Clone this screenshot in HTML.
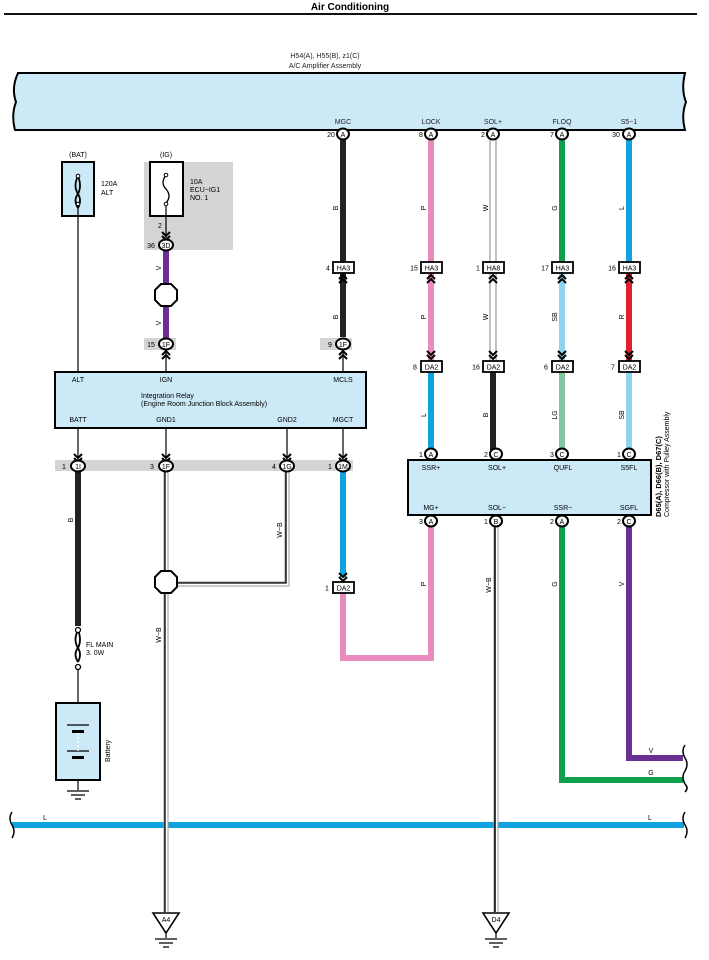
<!DOCTYPE html>
<html><head><meta charset="utf-8"><style>
html,body{margin:0;padding:0;background:#fff;}
svg{display:block;font-family:"Liberation Sans",sans-serif;}
.t{font-size:7px;fill:#222;}
.c{font-size:7px;fill:#222;text-anchor:middle;}
</style></head><body>
<svg width="709" height="960" viewBox="0 0 709 960" xmlns="http://www.w3.org/2000/svg">
<defs>
<g id="chU"><path d="M-4,4 L0,0 L4,4 M-4,8 L0,4 L4,8" fill="none" stroke="#000" stroke-width="2"/></g>
<g id="chD"><path d="M-4,-4 L0,0 L4,-4 M-4,-8 L0,-4 L4,-8" fill="none" stroke="#000" stroke-width="2"/></g>
</defs>
<text x="350" y="10" font-size="10" font-weight="bold" text-anchor="middle">Air Conditioning</text>
<rect x="4" y="13" width="693" height="2" fill="#111"/>

<text x="325" y="58" class="c" font-size="7.5">H54(A), H55(B), z1(C)</text>
<text x="325" y="68" class="c">A/C Amplifier Assembly</text>
<path d="M18,73 L685,73 Q681,90 686,102 Q681,115 685,130 L15,130 Q11,115 16,102 Q11,88 18,73 Z" fill="#cce9f8" stroke="#000" stroke-width="2"/>
<g class="c"><text x="343" y="124" class="c">MGC</text><text x="431" y="124" class="c">LOCK</text><text x="493" y="124" class="c">SOL+</text><text x="562" y="124" class="c">FLOQ</text><text x="629" y="124" class="c">S5−1</text></g>

<!-- upper wires -->
<rect x="340" y="137" width="6" height="200" fill="#222"/>
<rect x="428" y="137" width="6" height="225" fill="#e98bbd"/>
<rect x="490" y="137" width="6" height="225" fill="#fff" stroke="#666" stroke-width="0.8"/>
<rect x="559" y="137" width="6" height="128" fill="#0ea04c"/>
<rect x="559" y="272" width="6" height="90" fill="#8fd3f0"/>
<rect x="626" y="137" width="6" height="128" fill="#10a3df"/>
<rect x="626" y="272" width="6" height="90" fill="#e0202a"/>
<!-- lower to compressor -->
<rect x="428" y="370" width="6" height="80" fill="#10a3df"/>
<rect x="490" y="370" width="6" height="80" fill="#222"/>
<rect x="559" y="370" width="6" height="80" fill="#82c6a0"/>
<rect x="626" y="370" width="6" height="80" fill="#8fd3f0"/>

<!-- amp pins -->
<g font-size="7" text-anchor="middle">
<g><ellipse cx="343" cy="134" rx="6" ry="5.5" fill="#fff" stroke="#000" stroke-width="2"/><text x="343" y="137">A</text><text x="331" y="137">20</text></g>
<g><ellipse cx="431" cy="134" rx="6" ry="5.5" fill="#fff" stroke="#000" stroke-width="2"/><text x="431" y="137">A</text><text x="421" y="137">8</text></g>
<g><ellipse cx="493" cy="134" rx="6" ry="5.5" fill="#fff" stroke="#000" stroke-width="2"/><text x="493" y="137">A</text><text x="483" y="137">2</text></g>
<g><ellipse cx="562" cy="134" rx="6" ry="5.5" fill="#fff" stroke="#000" stroke-width="2"/><text x="562" y="137">A</text><text x="552" y="137">7</text></g>
<g><ellipse cx="629" cy="134" rx="6" ry="5.5" fill="#fff" stroke="#000" stroke-width="2"/><text x="629" y="137">A</text><text x="616" y="137">30</text></g>
</g>

<!-- HA boxes -->
<g font-size="7" text-anchor="middle">
<rect x="333" y="262" width="21" height="11" fill="#fff" stroke="#000" stroke-width="1.8"/><text x="343.5" y="270.5">HA3</text><text x="328" y="270.5">4</text>
<rect x="421" y="262" width="21" height="11" fill="#fff" stroke="#000" stroke-width="1.8"/><text x="431.5" y="270.5">HA3</text><text x="414" y="270.5">15</text>
<rect x="483" y="262" width="21" height="11" fill="#fff" stroke="#000" stroke-width="1.8"/><text x="493.5" y="270.5">HA8</text><text x="478" y="270.5">1</text>
<rect x="552" y="262" width="21" height="11" fill="#fff" stroke="#000" stroke-width="1.8"/><text x="562.5" y="270.5">HA3</text><text x="545" y="270.5">17</text>
<rect x="619" y="262" width="21" height="11" fill="#fff" stroke="#000" stroke-width="1.8"/><text x="629.5" y="270.5">HA3</text><text x="612" y="270.5">16</text>
</g>
<use href="#chU" x="343" y="275"/><use href="#chU" x="431" y="275"/><use href="#chU" x="493" y="275"/><use href="#chU" x="562" y="275"/><use href="#chU" x="629" y="275"/>
<!-- DA2 boxes -->
<g font-size="7" text-anchor="middle">
<rect x="421" y="361" width="21" height="11" fill="#fff" stroke="#000" stroke-width="1.8"/><text x="431.5" y="369.5">DA2</text><text x="415" y="369.5">8</text>
<rect x="483" y="361" width="21" height="11" fill="#fff" stroke="#000" stroke-width="1.8"/><text x="493.5" y="369.5">DA2</text><text x="476" y="369.5">16</text>
<rect x="552" y="361" width="21" height="11" fill="#fff" stroke="#000" stroke-width="1.8"/><text x="562.5" y="369.5">DA2</text><text x="546" y="369.5">6</text>
<rect x="619" y="361" width="21" height="11" fill="#fff" stroke="#000" stroke-width="1.8"/><text x="629.5" y="369.5">DA2</text><text x="613" y="369.5">7</text>
</g>
<use href="#chD" x="431" y="359"/><use href="#chD" x="493" y="359"/><use href="#chD" x="562" y="359"/><use href="#chD" x="629" y="359"/>

<!-- wire labels rotated -->
<g font-size="7" text-anchor="middle">
<text transform="translate(338,208) rotate(-90)">B</text>
<text transform="translate(426,208) rotate(-90)">P</text>
<text transform="translate(488,208) rotate(-90)">W</text>
<text transform="translate(557,208) rotate(-90)">G</text>
<text transform="translate(624,208) rotate(-90)">L</text>
<text transform="translate(338,317) rotate(-90)">B</text>
<text transform="translate(426,317) rotate(-90)">P</text>
<text transform="translate(488,317) rotate(-90)">W</text>
<text transform="translate(557,317) rotate(-90)">SB</text>
<text transform="translate(624,317) rotate(-90)">R</text>
<text transform="translate(426,415) rotate(-90)">L</text>
<text transform="translate(488,415) rotate(-90)">B</text>
<text transform="translate(557,415) rotate(-90)">LG</text>
<text transform="translate(624,415) rotate(-90)">SB</text>
</g>

<!-- compressor -->
<rect x="408" y="460" width="243" height="55" fill="#cce9f8" stroke="#000" stroke-width="2"/>
<g font-size="7" text-anchor="middle">
<text x="431" y="470">SSR+</text><text x="497" y="470">SOL+</text><text x="563" y="470">QUFL</text><text x="629" y="470">S5FL</text>
<text x="431" y="510">MG+</text><text x="497" y="510">SOL−</text><text x="563" y="510">SSR−</text><text x="629" y="510">SGFL</text>
</g>
<g font-size="7" text-anchor="middle">
<ellipse cx="431" cy="454" rx="6" ry="5.5" fill="#fff" stroke="#000" stroke-width="2"/><text x="431" y="457">A</text><text x="421" y="457">1</text>
<ellipse cx="496" cy="454" rx="6" ry="5.5" fill="#fff" stroke="#000" stroke-width="2"/><text x="496" y="457">C</text><text x="486" y="457">2</text>
<ellipse cx="562" cy="454" rx="6" ry="5.5" fill="#fff" stroke="#000" stroke-width="2"/><text x="562" y="457">C</text><text x="552" y="457">3</text>
<ellipse cx="629" cy="454" rx="6" ry="5.5" fill="#fff" stroke="#000" stroke-width="2"/><text x="629" y="457">C</text><text x="619" y="457">1</text>
</g>
<text transform="translate(661,517) rotate(-90)" font-size="7.5" font-weight="bold">D65(A), D66(B), D67(C)</text>
<text transform="translate(669,517) rotate(-90)" font-size="7">Compressor with Pulley Assembly</text>

<!-- compressor bottom wires -->
<path d="M431,525 V658 H343 V592" fill="none" stroke="#e98bbd" stroke-width="6"/>
<path d="M562,525 V780 H683" fill="none" stroke="#0ea04c" stroke-width="6"/>
<path d="M629,525 V758 H683" fill="none" stroke="#6a2f92" stroke-width="6"/>
<rect x="340" y="471" width="6" height="106" fill="#10a3df"/>
<use href="#chD" x="343" y="581"/>
<rect x="333" y="582" width="21" height="11" fill="#fff" stroke="#000" stroke-width="1.8"/>
<text x="343.5" y="590.5" font-size="7" text-anchor="middle">DA2</text><text x="327" y="590.5" font-size="7" text-anchor="middle">1</text>
<!-- L horizontal -->
<rect x="12" y="822" width="672" height="6" fill="#10a3df"/>
<path d="M685,745 q-4,6 0,13 q4,6 0,13 q-4,6 0,13 q4,4 0,8 M685,812 q-4,6 0,13 q4,6 0,13 M12,812 q-4,6 0,13 q4,6 0,13" fill="none" stroke="#000" stroke-width="1.5"/>
<g font-size="7" text-anchor="middle">
<text x="45" y="820">L</text><text x="650" y="820">L</text><text x="651" y="753">V</text><text x="651" y="775">G</text>
<text transform="translate(426,584) rotate(-90)">P</text>
<text transform="translate(557,584) rotate(-90)">G</text>
<text transform="translate(624,584) rotate(-90)">V</text>
<text transform="translate(491,585) rotate(-90)">W−B</text>
<text transform="translate(161,635) rotate(-90)">W−B</text>
<text transform="translate(282,530) rotate(-90)">W−B</text>
<text transform="translate(73,520) rotate(-90)">B</text>
<text transform="translate(161,268) rotate(-90)">V</text>
<text transform="translate(161,323) rotate(-90)">V</text>
</g>
<!-- SOL- W-B to D4 -->
<path d="M496,525 V912" stroke="#999" stroke-width="5" fill="none"/>
<path d="M496,525 V912" stroke="#fff" stroke-width="3" fill="none"/>
<path d="M495,525 V912" stroke="#000" stroke-width="1.5" fill="none"/>
<ellipse cx="496" cy="521" rx="6" ry="5.5" fill="#fff" stroke="#000" stroke-width="2"/><text x="496" y="524" font-size="7" text-anchor="middle">B</text><text x="486" y="524" font-size="7" text-anchor="middle">1</text>
<g font-size="7" text-anchor="middle">
<ellipse cx="431" cy="521" rx="6" ry="5.5" fill="#fff" stroke="#000" stroke-width="2"/><text x="431" y="524">A</text><text x="421" y="524">3</text>
<ellipse cx="562" cy="521" rx="6" ry="5.5" fill="#fff" stroke="#000" stroke-width="2"/><text x="562" y="524">A</text><text x="552" y="524">2</text>
<ellipse cx="629" cy="521" rx="6" ry="5.5" fill="#fff" stroke="#000" stroke-width="2"/><text x="629" y="524">C</text><text x="619" y="524">2</text>
</g>

<!-- Left: BAT fuse -->
<text x="78" y="157" font-size="7" text-anchor="middle">(BAT)</text>
<rect x="62" y="162" width="32" height="54" fill="#cce9f8" stroke="#000" stroke-width="2"/>
<path d="M78,176 q-5,10 0,18 q4,6 0,14 M78,176 q4,10 0,18 q-5,6 0,14" fill="none" stroke="#000" stroke-width="1.8"/>
<circle cx="78" cy="176" r="1.8" fill="#fff" stroke="#000"/><circle cx="78" cy="204" r="1.8" fill="#fff" stroke="#000"/>
<text x="101" y="186" font-size="7">120A</text><text x="101" y="195" font-size="7">ALT</text>
<path d="M78,205 V373" stroke="#000" stroke-width="1.2"/>
<!-- IG -->
<text x="166" y="157" font-size="7" text-anchor="middle">(IG)</text>
<rect x="144" y="162" width="89" height="88" fill="#d4d4d4"/>
<rect x="150" y="162" width="33" height="54" fill="#fff" stroke="#000" stroke-width="2"/>
<path d="M166,175 q-6,8 0,14 q6,7 0,14" fill="none" stroke="#000" stroke-width="1.3"/>
<circle cx="166" cy="175" r="1.8" fill="#fff" stroke="#000"/><circle cx="166" cy="204" r="1.8" fill="#fff" stroke="#000"/>
<text x="190" y="184" font-size="7">10A</text><text x="190" y="192" font-size="7">ECU−IG1</text><text x="190" y="200" font-size="7">NO. 1</text>
<path d="M166,206 V238" stroke="#000" stroke-width="1.2"/>
<use href="#chD" x="166" y="240"/>
<text x="160" y="228" font-size="7" text-anchor="middle">2</text>
<rect x="163" y="250" width="6" height="88" fill="#6a2f92"/>
<ellipse cx="166" cy="245" rx="7" ry="5.5" fill="#fff" stroke="#000" stroke-width="2"/><text x="166" y="248" font-size="7" text-anchor="middle">3D</text><text x="151" y="248" font-size="7" text-anchor="middle">36</text>
<polygon points="161,284 171,284 177,290 177,300 171,306 161,306 155,300 155,290" fill="#fff" stroke="#000" stroke-width="2"/>
<rect x="144" y="338" width="32" height="12" fill="#d4d4d4"/>
<rect x="320" y="338" width="32" height="12" fill="#d4d4d4"/>
<ellipse cx="166" cy="344" rx="7" ry="5.5" fill="#fff" stroke="#000" stroke-width="2"/><text x="166" y="347" font-size="7" text-anchor="middle">1F</text><text x="151" y="347" font-size="7" text-anchor="middle">15</text>
<ellipse cx="343" cy="344" rx="7" ry="5.5" fill="#fff" stroke="#000" stroke-width="2"/><text x="343" y="347" font-size="7" text-anchor="middle">1F</text><text x="330" y="347" font-size="7" text-anchor="middle">9</text>
<path d="M166,350 V373 M343,350 V373" stroke="#000" stroke-width="1.2"/>
<use href="#chU" x="166" y="351"/><use href="#chU" x="343" y="351"/>

<!-- relay -->
<rect x="55" y="372" width="311" height="56" fill="#cce9f8" stroke="#000" stroke-width="2"/>
<g font-size="7" text-anchor="middle">
<text x="78" y="382">ALT</text><text x="166" y="382">IGN</text><text x="343" y="382">MCLS</text>
<text x="78" y="422">BATT</text><text x="166" y="422">GND1</text><text x="287" y="422">GND2</text><text x="343" y="422">MGCT</text>
</g>
<text x="141" y="398" font-size="7">Integration Relay</text>
<text x="141" y="406" font-size="7">(Engine Room Junction Block Assembly)</text>
<path d="M78,428 V460 M166,428 V460 M287,428 V460 M343,428 V460" stroke="#000" stroke-width="1.2"/>
<use href="#chD" x="78" y="462"/><use href="#chD" x="166" y="462"/><use href="#chD" x="287" y="462"/><use href="#chD" x="343" y="462"/>
<rect x="55" y="460" width="298" height="11" fill="#d4d4d4"/>

<!-- W-B double lines -->
<path d="M166,471 V912 M287,471 V584 H170" stroke="#999" stroke-width="5" fill="none"/>
<path d="M166,471 V912 M287,471 V584 H170" stroke="#fff" stroke-width="3" fill="none"/>
<path d="M165,471 V912 M286,471 V583 H170" stroke="#000" stroke-width="1.3" fill="none"/>
<polygon points="161,571 171,571 177,577 177,587 171,593 161,593 155,587 155,577" fill="#fff" stroke="#000" stroke-width="2"/>
<!-- battery wire -->
<rect x="75" y="471" width="6" height="155" fill="#222"/>
<g font-size="7" text-anchor="middle">
<ellipse cx="78" cy="466" rx="7" ry="5.5" fill="#fff" stroke="#000" stroke-width="2"/><text x="78" y="469">1I</text><text x="64" y="469">1</text>
<ellipse cx="166" cy="466" rx="7" ry="5.5" fill="#fff" stroke="#000" stroke-width="2"/><text x="166" y="469">1F</text><text x="152" y="469">3</text>
<ellipse cx="287" cy="466" rx="7" ry="5.5" fill="#fff" stroke="#000" stroke-width="2"/><text x="287" y="469">1G</text><text x="274" y="469">4</text>
<ellipse cx="343" cy="466" rx="7" ry="5.5" fill="#fff" stroke="#000" stroke-width="2"/><text x="343" y="469">1M</text><text x="330" y="469">1</text>
</g>
<path d="M78,630 q-5,10 0,18 q4,6 0,14 M78,630 q4,10 0,18 q-5,6 0,14" fill="none" stroke="#000" stroke-width="1.8"/>
<circle cx="78" cy="630" r="2.5" fill="#fff" stroke="#000" stroke-width="1.3"/><circle cx="78" cy="667" r="2.5" fill="#fff" stroke="#000" stroke-width="1.3"/>
<text x="86" y="647" font-size="7">FL MAIN</text><text x="86" y="655" font-size="7">3. 0W</text>
<path d="M78,670 V790" stroke="#000" stroke-width="1.2"/>
<rect x="56" y="703" width="44" height="77" fill="#cce9f8" stroke="#000" stroke-width="2"/>
<path d="M67,725 H89 M67,751 H89" stroke="#000" stroke-width="1.2"/>
<rect x="72" y="730" width="12" height="3" fill="#000"/><rect x="72" y="756" width="12" height="3" fill="#000"/>
<path d="M78,733 V751" stroke="#fff" stroke-width="1.5" stroke-dasharray="2,2"/>
<text transform="translate(110,762) rotate(-90)" font-size="7">Battery</text>
<path d="M67,791 H89 M71,795 H85 M75,799 H81" stroke="#000" stroke-width="1.2"/>

<!-- grounds -->
<g>
<polygon points="153,913 179,913 166,933" fill="#fff" stroke="#000" stroke-width="1.6"/>
<text x="166" y="922" font-size="7" text-anchor="middle">A4</text>
<path d="M166,933 V938 M155,939 H177 M159,943 H173 M163,947 H169" stroke="#000" stroke-width="1.2"/>
<polygon points="483,913 509,913 496,933" fill="#fff" stroke="#000" stroke-width="1.6"/>
<text x="496" y="922" font-size="7" text-anchor="middle">D4</text>
<path d="M496,933 V938 M485,939 H507 M489,943 H503 M493,947 H499" stroke="#000" stroke-width="1.2"/>
</g>
</svg>
</body></html>
